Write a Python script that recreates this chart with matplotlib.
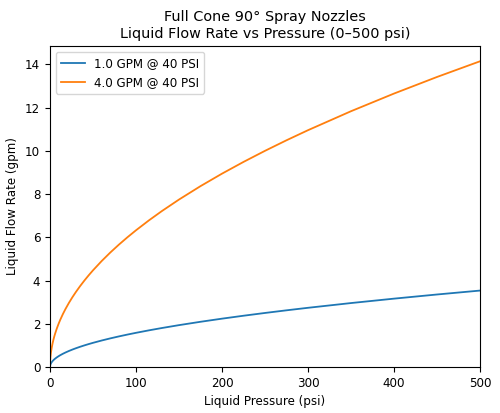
import matplotlib
matplotlib.use("Agg")
import matplotlib.pyplot as plt

# values
pressure = [0, 0.25, 0.5, 1, 1.5, 2, 3, 4, 5, 6, 8, 10, 12, 15, 18, 22, 26, 30,
            35, 40, 45, 50, 60, 70, 80, 90, 100, 115, 130, 150, 175, 200, 225,
            250, 275, 300, 350, 400, 450, 500]
flow_1gpm = [0.0, 0.0791, 0.1118, 0.1581, 0.1936, 0.2236, 0.2739, 0.3162,
             0.3536, 0.3873, 0.4472, 0.5, 0.5477, 0.6124, 0.6708, 0.7416,
             0.8062, 0.8660, 0.9354, 1.0, 1.0607, 1.1180, 1.2247, 1.3229,
             1.4142, 1.5, 1.5811, 1.6956, 1.8028, 1.9365, 2.0917, 2.2361,
             2.3717, 2.5, 2.6220, 2.7386, 2.9580, 3.1623, 3.3541, 3.5355]
flow_4gpm = [0.0, 0.3162, 0.4472, 0.6325, 0.7746, 0.8944, 1.0954, 1.2649,
             1.4142, 1.5492, 1.7889, 2.0, 2.1909, 2.4495, 2.6833, 2.9665,
             3.2249, 3.4641, 3.7417, 4.0, 4.2426, 4.4721, 4.8990, 5.2915,
             5.6569, 6.0, 6.3246, 6.7823, 7.2111, 7.7460, 8.3666, 8.9443,
             9.4868, 10.0, 10.4881, 10.9545, 11.8322, 12.6491, 13.4164, 14.1421]
labels = ["1.0 GPM @ 40 PSI", "4.0 GPM @ 40 PSI"]


def main():
    plt.rcParams["font.size"] = 8.6
    plt.rcParams["axes.titlesize"] = 10.4
    plt.rcParams["lines.linewidth"] = 1.3
    fig, ax = plt.subplots(figsize=(5.0, 4.13), dpi=100)
    ax.plot(pressure, flow_1gpm, label=labels[0])
    ax.plot(pressure, flow_4gpm, label=labels[1])
    ax.set_xlim(0, 500)
    ax.set_ylim(bottom=0)
    ax.set_xlabel("Liquid Pressure (psi)")
    ax.set_ylabel("Liquid Flow Rate (gpm)")
    ax.set_title("Full Cone 90° Spray Nozzles\nLiquid Flow Rate vs Pressure (0–500 psi)")
    ax.legend(loc="upper left")
    fig.subplots_adjust(left=0.1, right=0.96, top=1 - 46 / 413, bottom=1 - 367 / 413)
    fig.savefig("out.png", dpi=100)


if __name__ == "__main__":
    main()
